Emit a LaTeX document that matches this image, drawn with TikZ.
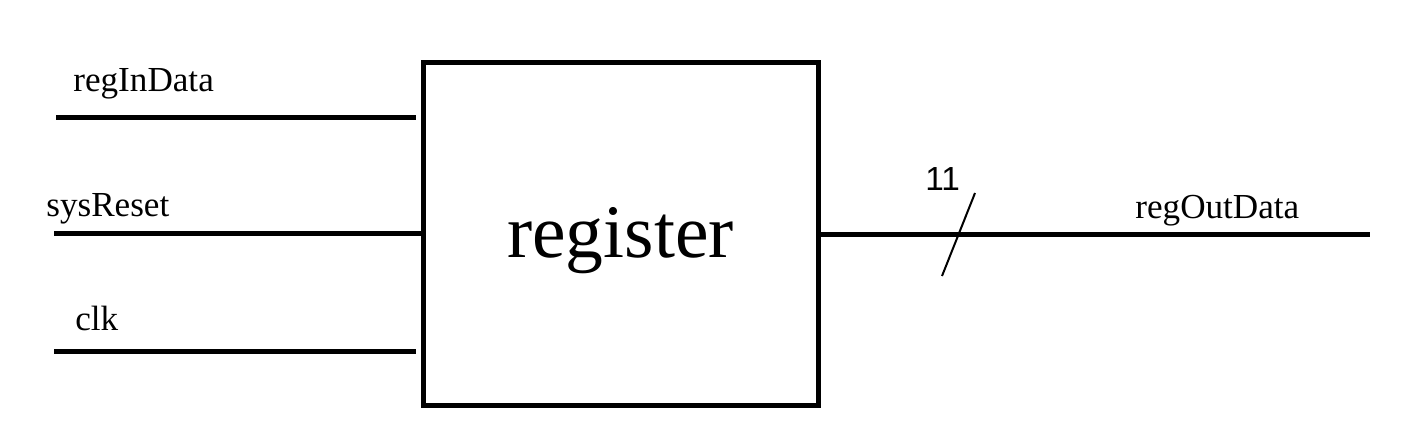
\documentclass[tikz,border=0pt]{standalone}
\usepackage{fontspec}
\setmainfont{Liberation Serif}
\newfontfamily\widthfont{Liberation Sans}
\usetikzlibrary{positioning,calc}

\begin{document}
\begin{tikzpicture}[
  block/.style={draw,line width=0.1cm,minimum width=7.9cm,minimum height=6.84cm,inner sep=0pt,
    text height=1.27cm,text depth=0.35cm,font=\fontsize{43}{43}\selectfont},
  wire/.style={line width=0.1cm},
  sig/.style={anchor=base west,inner sep=0pt,font=\fontsize{20}{20}\selectfont},
  width/.style={anchor=base west,inner sep=0pt,font=\widthfont\fontsize{19}{19}\selectfont}
]
\useasboundingbox (0,0) rectangle (28.3,8.74);
\node[block] (reg) at (12.41,4.06) {register};
% inputs
\coordinate (inA) at (1.12,6.4);
\coordinate (inB) at (1.08,4.08);
\coordinate (inC) at (1.08,1.72);
\draw[wire] (inA) -- ([xshift=-0.1cm]reg.west |- inA);
\draw[wire] (inB) -- (reg.west |- inB);
\draw[wire] (inC) -- ([xshift=-0.1cm]reg.west |- inC);
\node[sig] (lblA) at (1.46,6.9) {regInData};
\node[sig] (lblB) at (0.92,4.42) {sysReset};
\node[sig] (lblC) at (1.5,2.14) {clk};
% output bus
\coordinate (out) at (27.4,4.06);
\draw[wire] (reg.east) -- (out);
\coordinate (tickA) at (18.84,3.22);
\coordinate (tickB) at (19.5,4.88);
\draw[line width=0.04cm] (tickA) -- (tickB);
\node[width] (busw) at (18.5,4.94) {11};
\node[sig] (lblOut) at (22.7,4.38) {regOutData};
\end{tikzpicture}
\end{document}
